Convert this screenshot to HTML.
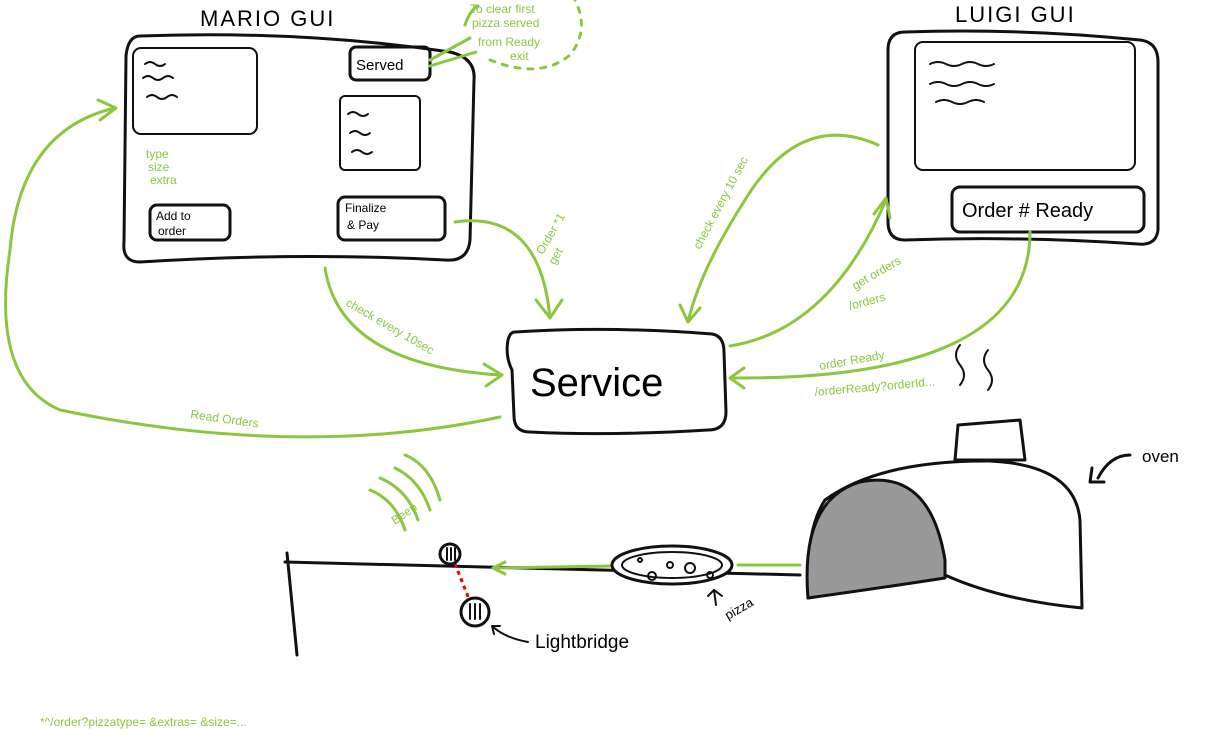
<!DOCTYPE html>
<html><head><meta charset="utf-8"><style>
html,body{margin:0;padding:0;background:#fff;width:1229px;height:738px;overflow:hidden}
svg{display:block}
text{font-family:"Liberation Sans",sans-serif}
.k{fill:none;stroke:#111;stroke-width:3;stroke-linecap:round;stroke-linejoin:round}
.k2{fill:none;stroke:#111;stroke-width:2;stroke-linecap:round}
.g{fill:none;stroke:#8cc63f;stroke-width:3;stroke-linecap:round;stroke-linejoin:round}
.gt{fill:#8cc63f;font-size:12px}
</style></head><body>
<svg width="1229" height="738" viewBox="0 0 1229 738">
<!-- MARIO GUI -->
<text x="200" y="26" font-size="22" letter-spacing="2">MARIO GUI</text>
<path class="k" d="M140 36 Q300 30 450 52 Q476 58 474 80 L470 240 Q468 262 445 260 Q300 252 140 262 Q122 262 124 242 L126 56 Q128 36 140 36Z"/>
<rect class="k2" x="133" y="48" width="124" height="86" rx="8"/>
<path class="k2" d="M145 64 q5-4 10 0 t10 0 M143 78 q5-4 10 0 t10 0 t10 0 M147 97 q5-4 10 0 t10 0 t10 0"/>
<rect class="k" x="350" y="47" width="80" height="33" rx="6"/>
<text x="356" y="70" font-size="15">Served</text>
<rect class="k2" x="340" y="96" width="80" height="74" rx="5"/>
<path class="k2" d="M348 114 q5-4 10 0 t10 0 M350 133 q5-4 10 0 t10 0 M352 152 q5-4 10 0 t10 0"/>
<text class="gt" x="146" y="158">type</text><text class="gt" x="148" y="171">size</text><text class="gt" x="150" y="184">extra</text>
<rect class="k" x="150" y="205" width="80" height="35" rx="7"/>
<text x="156" y="220" font-size="12">Add to</text><text x="158" y="235" font-size="12">order</text>
<rect class="k" x="338" y="197" width="107" height="43" rx="7"/>
<text x="345" y="212" font-size="12">Finalize</text><text x="347" y="229" font-size="12">&amp; Pay</text>
<!-- note -->
<text class="gt" x="470" y="13" font-size="11">To clear first</text>
<text class="gt" x="472" y="27" font-size="11">pizza served</text>
<text class="gt" x="478" y="46" font-size="11">from Ready</text>
<text class="gt" x="510" y="60" font-size="11">exit</text>
<path class="g" stroke-width="2" d="M430 60 L470 38 M430 66 L476 52 M465 25 Q470 10 478 6"/>
<path class="g" stroke-width="2" stroke-dasharray="5 8" d="M490 60 Q540 80 570 55 Q590 30 575 0"/>
<!-- LUIGI GUI -->
<text x="955" y="22" font-size="22" letter-spacing="2">LUIGI GUI</text>
<path class="k" d="M905 32 Q1020 28 1140 40 Q1158 42 1158 62 L1158 230 Q1156 246 1138 244 Q1020 236 905 240 Q888 240 888 222 L888 50 Q888 32 905 32Z"/>
<rect class="k2" x="915" y="42" width="220" height="128" rx="8"/>
<path class="k2" d="M930 64 q8-4 16 0 t16 0 t16 0 t16 0 M930 84 q8-4 16 0 t16 0 t16 0 t16 0 M936 102 q8-4 16 0 t16 0 t16 0"/>
<rect class="k" x="952" y="187" width="192" height="45" rx="8"/>
<text x="962" y="217" font-size="20">Order # Ready</text>
<!-- Service -->
<path class="k" d="M515 332 Q610 326 712 334 Q724 336 724 352 L726 412 Q726 430 708 430 Q610 436 530 432 Q514 432 514 416 L512 370 Q505 356 508 340 Q510 332 515 332Z"/>
<text x="530" y="396" font-size="40">Service</text>
<!-- green arrows -->
<path class="g" d="M455 222 Q540 210 550 318"/><path class="g" d="M536 300 L550 318 L562 300"/>
<text class="gt" x="528" y="250" transform="rotate(-60 540 240)" font-size="14">Order *1</text>
<text class="gt" x="546" y="260" transform="rotate(-60 555 255)" font-size="14">get</text>
<path class="g" d="M325 268 Q340 365 500 375"/><path class="g" d="M484 364 L502 375 L486 386"/>
<text class="gt" x="345" y="305" transform="rotate(30 345 305)">check every 10sec</text>
<path class="g" d="M500 417 Q300 460 60 410 Q-10 380 10 250 Q20 130 115 108"/><path class="g" d="M98 100 L116 108 L100 120"/>
<text class="gt" x="190" y="418" transform="rotate(8 190 418)">Read Orders</text>
<path class="g" d="M878 145 Q800 110 745 200 Q700 270 688 322"/><path class="g" d="M680 305 L688 322 L700 308"/>
<text class="gt" x="700" y="250" transform="rotate(-62 700 250)">check every 10 sec</text>
<path class="g" d="M730 346 Q830 330 886 200"/><path class="g" d="M874 214 L886 198 L890 218"/>
<text class="gt" x="855" y="290" transform="rotate(-30 855 290)">get orders</text>
<text class="gt" x="850" y="310" transform="rotate(-15 850 310)">/orders</text>
<path class="g" d="M1030 232 Q1030 380 732 378"/><path class="g" d="M744 368 L730 378 L744 388"/>
<text class="gt" x="820" y="370" transform="rotate(-10 820 370)">order Ready</text>
<text class="gt" x="815" y="396" transform="rotate(-5 815 396)" font-size="11">/orderReady?orderId...</text>
<!-- steam & oven -->
<path class="k2" stroke-width="3" d="M960 345 q-8 10 0 20 t0 20 M988 350 q-8 10 0 20 t0 20"/>
<path class="k" d="M958 425 L1020 420 L1025 460 L955 460Z"/>
<path class="k" style="fill:#fff" d="M945 575 Q1000 600 1082 608 L1080 520 Q1075 465 990 461 Q880 460 825 500 Q805 530 808 598 Z"/>
<path class="k" style="fill:#999" d="M808 598 Q800 500 860 482 Q930 468 945 560 L945 578 Q880 588 808 598Z"/>
<path class="k" d="M1098 478 Q1110 455 1130 455 M1092 468 L1090 482 L1104 482"/>
<text x="1142" y="462" font-size="17">oven</text>
<!-- table -->
<path class="k" d="M285 562 L800 575 M287 553 L297 655"/>
<path class="g" stroke-width="2" d="M800 565 L738 565 M612 566 L495 568"/><path class="g" stroke-width="2" d="M505 562 L493 568 L505 574"/>
<ellipse class="k" cx="672" cy="565" rx="60" ry="19" style="fill:#fff"/>
<ellipse class="k2" cx="672" cy="565" rx="50" ry="13"/>
<circle cx="652" cy="576" r="4" class="k2"/><circle cx="690" cy="568" r="5" class="k2"/><circle cx="670" cy="565" r="3" class="k2"/><circle cx="640" cy="560" r="2" class="k2"/><circle cx="710" cy="575" r="3" class="k2"/>
<path class="k2" d="M716 605 L714 590 M708 596 L714 590 L722 596"/>
<text x="728" y="620" font-size="13" transform="rotate(-30 728 620)">pizza</text>
<!-- sensors -->
<path d="M452 556 L474 612" stroke="#e00" stroke-width="3" stroke-dasharray="4 4"/>
<circle cx="450" cy="554" r="10" class="k" style="fill:#fff"/><path class="k2" d="M447 548 v12 M451 548 v12 M455 548 v12"/>
<circle cx="475" cy="612" r="14" class="k" style="fill:#fff"/><path class="k2" d="M470 604 v15 M475 604 v15 M480 604 v15"/>
<path class="k2" d="M528 642 Q505 638 492 626 M492 626 L500 626 M492 626 L494 634"/>
<text x="535" y="648" font-size="19">Lightbridge</text>
<!-- beep -->
<path class="g" stroke-width="2" d="M430 510 Q420 480 395 468 M418 520 Q408 490 380 478 M405 530 Q395 500 370 490 M440 500 Q430 465 405 455"/>
<text class="gt" x="395" y="525" transform="rotate(-35 395 525)">Beep</text>
<!-- footnote -->
<text class="gt" x="40" y="726" font-size="13">*^/order?pizzatype= &amp;extras= &amp;size=...</text>
</svg>
</body></html>
